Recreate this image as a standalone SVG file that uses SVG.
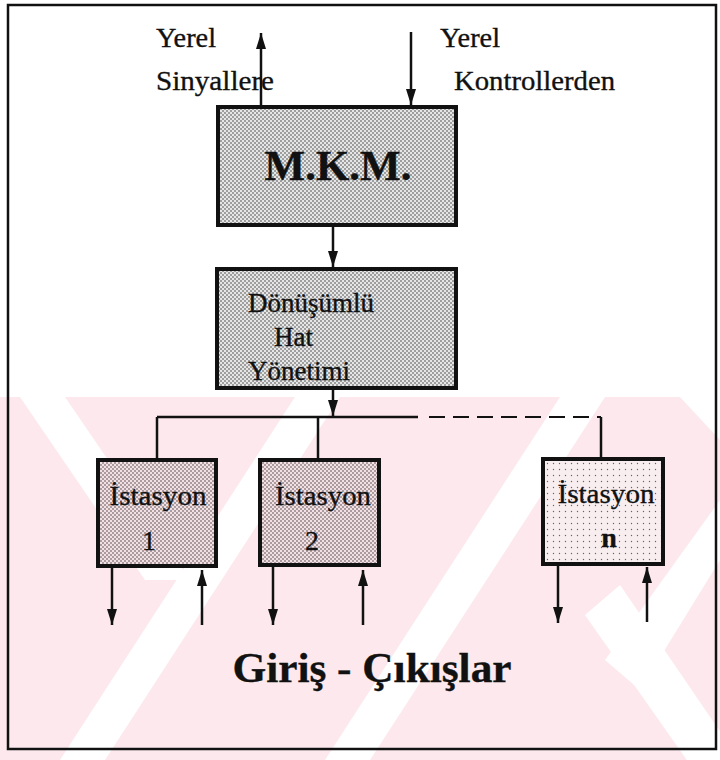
<svg xmlns="http://www.w3.org/2000/svg" width="720" height="760" viewBox="0 0 720 760">
  <defs>
    <style>
      .lbl { font-family: "Liberation Serif", "Times New Roman", serif; fill: #111; stroke: #111; stroke-width: 0.35; }
      .box { stroke: #111; stroke-width: 4; }
      .wire { stroke: #111; stroke-width: 2.5; fill: none; }
      .dash { stroke: #111; stroke-width: 2; fill: none; stroke-dasharray: 16 8; }
      .band { fill: #ffffff; }
    </style>
    <!-- halftone screens used as box fills -->
    <pattern id="screen" width="4" height="4" patternUnits="userSpaceOnUse">
      <rect width="4" height="4" fill="#e6e6e6"/>
      <circle cx="1" cy="1" r="0.75" fill="#333"/>
      <circle cx="3" cy="3" r="0.75" fill="#333"/>
    </pattern>
    <pattern id="screenPink" width="4" height="4" patternUnits="userSpaceOnUse">
      <rect width="4" height="4" fill="#f3e0e4"/>
      <circle cx="1" cy="1" r="0.75" fill="#3a3435"/>
      <circle cx="3" cy="3" r="0.75" fill="#3a3435"/>
    </pattern>
    <pattern id="screenLight" width="6" height="6" patternUnits="userSpaceOnUse">
      <rect width="6" height="6" fill="#f8eef0"/>
      <circle cx="1.5" cy="1.5" r="0.7" fill="#6a6264"/>
    </pattern>
    <!-- narrow filled arrowhead, tip at the line end -->
    <marker id="head" markerWidth="16" markerHeight="10" refX="16" refY="5" orient="auto" markerUnits="userSpaceOnUse" viewBox="0 0 16 10">
      <path d="M0,0 L16,5 L0,10 Z" fill="#111"/>
    </marker>
    <clipPath id="lower">
      <rect x="0" y="397" width="720" height="363"/>
    </clipPath>
  </defs>

  <!-- page background with pale diagonal banding in the lower half -->
  <rect x="0" y="0" width="720" height="760" fill="#ffffff"/>
  <g id="backdrop" clip-path="url(#lower)">
    <rect x="0" y="397" width="720" height="363" fill="#fde9ed"/>
    <polygon class="band" points="20,397 65,397 190,580 145,580"/>
    <polygon class="band" points="295,397 340,397 105,760 60,760"/>
    <polygon class="band" points="560,397 605,397 370,760 325,760"/>
    <polygon class="band" points="585,615 620,585 760,790 715,800"/>
    <polygon class="band" points="720,500 720,560 640,690 605,660"/>
    <polygon class="band" points="680,397 720,397 720,440"/>
  </g>

  <!-- outer frame -->
  <rect x="8" y="5" width="708" height="744" fill="none" stroke="#111" stroke-width="2.5"/>

  <!-- free labels -->
  <g id="labels">
    <text class="lbl" x="156" y="47" font-size="28" textLength="60" lengthAdjust="spacingAndGlyphs">Yerel</text>
    <text class="lbl" x="156" y="90" font-size="28" textLength="118" lengthAdjust="spacingAndGlyphs">Sinyallere</text>
    <text class="lbl" x="440" y="47" font-size="28" textLength="60" lengthAdjust="spacingAndGlyphs">Yerel</text>
    <text class="lbl" x="454" y="90" font-size="28" textLength="161" lengthAdjust="spacingAndGlyphs">Kontrollerden</text>
    <text class="lbl" x="372" y="682" font-size="42" font-weight="bold" text-anchor="middle" textLength="279" lengthAdjust="spacingAndGlyphs">Giriş - Çıkışlar</text>
  </g>

  <!-- central unit -->
  <g id="mkm">
    <rect class="box" x="218" y="107" width="238" height="118" fill="url(#screen)"/>
    <text class="lbl" x="338" y="180" font-size="43" font-weight="bold" text-anchor="middle">M.K.M.</text>
  </g>

  <!-- ring line manager -->
  <g id="hat">
    <rect class="box" x="217" y="269" width="239" height="119" fill="url(#screen)"/>
    <text class="lbl" x="248" y="312" font-size="27">Dönüşümlü</text>
    <text class="lbl" x="274" y="346" font-size="27">Hat</text>
    <text class="lbl" x="248" y="380" font-size="27">Yönetimi</text>
  </g>

  <!-- stations -->
  <g id="istasyon1">
    <rect class="box" x="98" y="460" width="118" height="106" fill="url(#screenPink)"/>
    <text class="lbl" x="158" y="505" font-size="28" text-anchor="middle" textLength="97" lengthAdjust="spacingAndGlyphs">İstasyon</text>
    <text class="lbl" x="149" y="550" font-size="28" text-anchor="middle">1</text>
  </g>
  <g id="istasyon2">
    <rect class="box" x="260" y="460" width="119" height="105" fill="url(#screenPink)"/>
    <text class="lbl" x="323" y="505" font-size="28" text-anchor="middle" textLength="96" lengthAdjust="spacingAndGlyphs">İstasyon</text>
    <text class="lbl" x="312" y="550" font-size="28" text-anchor="middle">2</text>
  </g>
  <g id="istasyonN">
    <rect class="box" x="543" y="459" width="120" height="105" fill="url(#screenLight)"/>
    <text class="lbl" x="606" y="503" font-size="28" text-anchor="middle" textLength="97" lengthAdjust="spacingAndGlyphs">İstasyon</text>
    <text class="lbl" x="609" y="547" font-size="28" font-weight="bold" text-anchor="middle">n</text>
  </g>

  <!-- connectors -->
  <g id="connectors">
    <line class="wire" x1="261" y1="105" x2="261" y2="33" marker-end="url(#head)"/>
    <line class="wire" x1="411" y1="32" x2="411" y2="105" marker-end="url(#head)"/>
    <line class="wire" x1="333" y1="227" x2="333" y2="267" marker-end="url(#head)"/>
    <line class="wire" x1="333" y1="390" x2="333" y2="416" marker-end="url(#head)"/>
    <line class="wire" x1="157" y1="417" x2="418" y2="417"/>
    <line class="dash" x1="429" y1="417" x2="601" y2="417"/>
    <polyline class="wire" points="157,417 157,458"/>
    <polyline class="wire" points="318,417 318,458"/>
    <polyline class="wire" points="601,417 601,457"/>
    <line class="wire" x1="112" y1="568" x2="112" y2="625" marker-end="url(#head)"/>
    <line class="wire" x1="202" y1="625" x2="202" y2="570" marker-end="url(#head)"/>
    <line class="wire" x1="273" y1="567" x2="273" y2="625" marker-end="url(#head)"/>
    <line class="wire" x1="363" y1="625" x2="363" y2="570" marker-end="url(#head)"/>
    <line class="wire" x1="558" y1="566" x2="558" y2="623" marker-end="url(#head)"/>
    <line class="wire" x1="647" y1="622" x2="647" y2="567" marker-end="url(#head)"/>
  </g>
</svg>
